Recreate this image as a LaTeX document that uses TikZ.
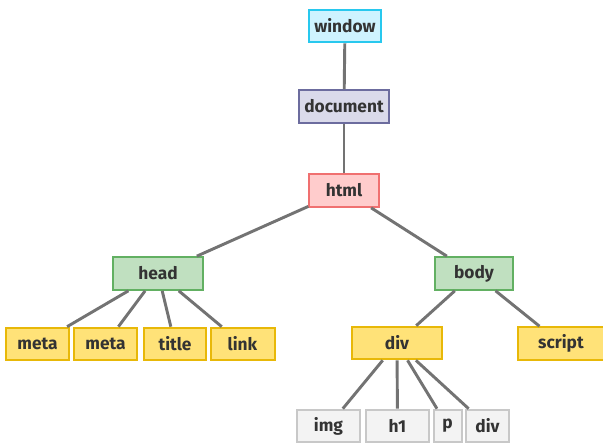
\documentclass[tikz,border=0pt]{standalone}
\usepackage{fontspec}
\setmainfont{Fira Sans}
\usepackage{tikz}

\tikzset{
  tag/.style={draw, line width=1.5pt, inner sep=0pt, minimum height=24.5pt,
    text=black!80, font=\fontsize{13}{15}\selectfont\bfseries},
  edge/.style={draw=black!55, line width=2.2pt}
}
\definecolor{winfill}{RGB}{206,243,255}
\definecolor{winline}{RGB}{40,200,238}
\definecolor{docfill}{RGB}{218,218,234}
\definecolor{docline}{RGB}{108,108,158}
\definecolor{htmlfill}{RGB}{255,204,204}
\definecolor{htmlline}{RGB}{240,112,112}
\definecolor{grnfill}{RGB}{192,224,192}
\definecolor{grnline}{RGB}{98,176,98}
\definecolor{ylwfill}{RGB}{255,226,120}
\definecolor{ylwline}{RGB}{232,184,8}
\definecolor{gryfill}{RGB}{243,243,243}
\definecolor{gryline}{RGB}{200,200,200}

\begin{document}
\begin{tikzpicture}[x=0.75pt,y=0.75pt,yscale=-1,xscale=1]
\useasboundingbox (0,0) rectangle (603,443);

% top chain
\node[tag, fill=winfill, draw=winline, minimum width=54pt] (window) at (345,26) {window};
\node[tag, fill=docfill, draw=docline, minimum width=68pt] (document) at (344,106.5) {document};
\node[tag, fill=htmlfill, draw=htmlline, minimum width=52pt] (html) at (344,190.5) {html};

% head and body
\node[tag, fill=grnfill, draw=grnline, minimum width=67pt] (head) at (158,273.5) {head};
\node[tag, fill=grnfill, draw=grnline, minimum width=58pt] (body) at (474,273.5) {body};

% children of head
\node[tag, fill=ylwfill, draw=ylwline, minimum width=47pt] (meta1) at (37.5,344) {meta};
\node[tag, fill=ylwfill, draw=ylwline, minimum width=47pt] (meta2) at (105.5,344) {meta};
\node[tag, fill=ylwfill, draw=ylwline, minimum width=47pt] (title) at (175,344) {title};
\node[tag, fill=ylwfill, draw=ylwline, minimum width=48pt] (link) at (242.5,344) {link};

% children of body
\node[tag, fill=ylwfill, draw=ylwline, minimum width=67pt] (div) at (397,343) {div};
\node[tag, fill=ylwfill, draw=ylwline, minimum width=64pt] (script) at (561,343.5) {script};

% children of div
\node[tag, fill=gryfill, draw=gryline, minimum width=47pt] (img) at (328.5,426) {img};
\node[tag, fill=gryfill, draw=gryline, minimum width=47pt] (h1) at (397.5,426) {h1};
\node[tag, fill=gryfill, draw=gryline, minimum width=21pt] (p) at (447.5,426) {p};
\node[tag, fill=gryfill, draw=gryline, minimum width=32pt] (div2) at (487.5,426) {div};

% connectors
\draw[edge] (window) -- (document);
\draw[edge] (document) -- (html);
\draw[edge] (html) -- (head);
\draw[edge] (html) -- (body);
\foreach \c in {meta1,meta2,title,link}
  \draw[edge] (head) -- (\c);
\draw[edge] (body) -- (div);
\draw[edge] (body) -- (script);
\foreach \c in {img,h1,p,div2}
  \draw[edge] (div) -- (\c);

\end{tikzpicture}
\end{document}
